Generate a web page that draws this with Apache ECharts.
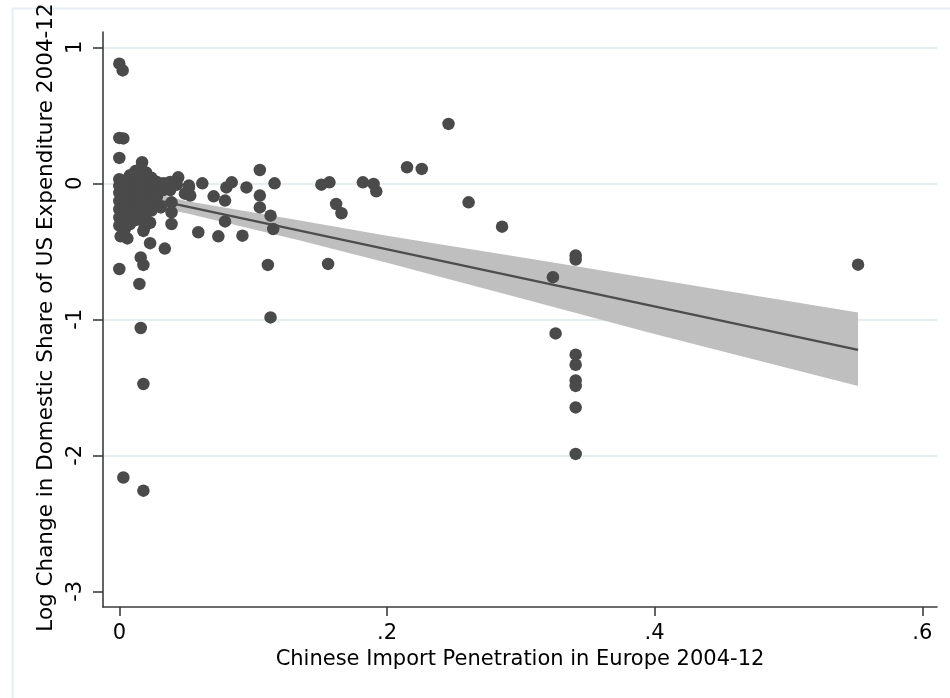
<!DOCTYPE html>
<html>
<head>
<meta charset="utf-8">
<script src="https://cdn.jsdelivr.net/npm/echarts@6/dist/echarts.min.js"></script>
<style>
html,body{margin:0;padding:0;background:#fff;}
#chart{width:950px;height:698px;}
</style>
</head>
<body>
<div id="chart"></div>
<script>
// ---- data ----
const xTitle = 'Chinese Import Penetration in Europe 2004-12';
const yTitle = 'Log Change in Domestic Share of US Expenditure 2004-12';

const xTickVals = [0, 0.2, 0.4, 0.6];
const xTickLabels = ['0', '.2', '.4', '.6'];
const yTickVals = [-3, -2, -1, 0, 1];
const yTickLabels = ['-3', '-2', '-1', '0', '1'];
const yGridVals = [-2, -1, 0, 1];

// scatter points (industries)
const scatterX = [
  0.000, 0.0025, 0.000, 0.003, 0.000, 0.017, 0.044, 0.052, 0.049, 0.062,
  0.0705, 0.079, 0.080, 0.084, 0.095, 0.105, 0.116, 0.105, 0.105, 0.113,
  0.115, 0.031, 0.039, 0.039, 0.039, 0.079, 0.059, 0.074, 0.092, 0.023,
  0.034, 0.016, 0.001, 0.006, 0.018, 0.018, 0.000, 0.015, 0.111, 0.113,
  0.016, 0.018, 0.003, 0.018, 0.151, 0.157, 0.162, 0.166, 0.156, 0.182,
  0.190, 0.192, 0.215, 0.226, 0.246, 0.261, 0.286, 0.324, 0.341, 0.341,
  0.326, 0.341, 0.341, 0.341, 0.341, 0.341, 0.341, 0.552, 0.019, 0.023,
  0.053, 0.052,
  // dense cluster near zero
  0.000, 0.000, 0.000, 0.000, 0.000, 0.000, 0.000,
  0.004, 0.004, 0.004, 0.004, 0.004, 0.004, 0.004,
  0.008, 0.008, 0.008, 0.008, 0.008, 0.008, 0.008,
  0.012, 0.012, 0.012, 0.012, 0.012, 0.012, 0.012,
  0.016, 0.016, 0.016, 0.016, 0.016, 0.016, 0.016,
  0.020, 0.020, 0.020, 0.020, 0.020, 0.020, 0.020,
  0.024, 0.024, 0.024, 0.024, 0.024,
  0.028, 0.028, 0.028,
  0.033, 0.033,
  0.038, 0.038,
  0.043
];
const scatterY = [
  0.880, 0.830, 0.334, 0.330, 0.187, 0.155, 0.044, -0.017, -0.076, 0.000,
  -0.096, -0.127, -0.030, 0.007, -0.030, 0.098, 0.000, -0.090, -0.177, -0.238,
  -0.336, -0.177, -0.140, -0.213, -0.299, -0.280, -0.360, -0.390, -0.385, -0.440,
  -0.480, -0.545, -0.390, -0.405, -0.350, -0.600, -0.630, -0.740, -0.600, -0.986,
  -1.064, -1.476, -2.163, -2.260, -0.010, 0.007, -0.152, -0.220, -0.593, 0.007,
  -0.005, -0.059, 0.118, 0.106, 0.437, -0.140, -0.319, -0.690, -0.530, -0.560,
  -1.104, -1.260, -1.334, -1.450, -1.490, -1.648, -1.990, -0.598, -0.320, -0.290,
  -0.090, -0.030,
  0.030, -0.020, -0.070, -0.130, -0.190, -0.250, -0.310,
  0.020, -0.040, -0.100, -0.160, -0.220, -0.280, -0.340,
  0.060, 0.000, -0.060, -0.120, -0.180, -0.240, -0.300,
  0.090, 0.030, -0.030, -0.090, -0.150, -0.210, -0.270,
  0.110, 0.050, -0.010, -0.070, -0.130, -0.190, -0.250,
  0.080, 0.020, -0.040, -0.100, -0.160, -0.220, -0.280,
  0.040, -0.020, -0.080, -0.140, -0.200,
  0.010, -0.050, -0.100,
  0.000, -0.050,
  0.010, -0.050,
  -0.010
];

// fitted line
const fitX = [0, 0.552];
const fitY = [-0.065, -1.225];

// 95% confidence band
const bandX  = [0, 0.05, 0.135, 0.2, 0.307, 0.397, 0.552];
const bandLo = [-0.12, -0.22, -0.42, -0.585, -0.864, -1.10, -1.49];
const bandHi = [-0.01, -0.13, -0.274, -0.385, -0.555, -0.70, -0.95];

// ---- chart ----
const font = 'DejaVu Sans';
const chart = echarts.init(document.getElementById('chart'), null, {renderer: 'canvas'});

function labelFor(vals, labels) {
  return function (v) {
    const i = vals.findIndex(t => Math.abs(t - v) < 1e-9);
    return i >= 0 ? labels[i] : '';
  };
}

const scatterData = scatterX.map((x, i) => [x, scatterY[i]]);
const fitData = fitX.map((x, i) => [x, fitY[i]]);
const bandData = bandX.map((x, i) => [x, bandLo[i], bandHi[i]]);

const option = {
  animation: false,
  backgroundColor: '#ffffff',
  graphic: [{
    type: 'rect',
    left: 10, top: 6,
    shape: {width: 980, height: 720},
    style: {fill: 'none', stroke: '#e6eef1', lineWidth: 2},
    silent: true, z: -10
  }],
  grid: {left: 103, right: 13, top: 32, bottom: 91, containLabel: false, outerBoundsMode: 'none'},
  xAxis: {
    type: 'value',
    min: -0.0122, max: 0.611,
    name: xTitle,
    nameLocation: 'middle',
    nameGap: 38,
    nameTextStyle: {fontFamily: font, fontSize: 21, color: '#000'},
    axisLine: {show: true, onZero: false, lineStyle: {color: '#3c3c3c', width: 1.6}},
    axisTick: {show: true, length: 9, customValues: xTickVals, lineStyle: {color: '#3c3c3c', width: 1.6}},
    axisLabel: {
      customValues: xTickVals, margin: 16,
      fontFamily: font, fontSize: 21, color: '#000',
      formatter: labelFor(xTickVals, xTickLabels)
    },
    splitLine: {show: false}
  },
  yAxis: {
    type: 'value',
    min: -3.1155, max: 1.1126,
    name: yTitle,
    nameLocation: 'middle',
    nameGap: 43,
    nameRotate: 90,
    nameTextStyle: {fontFamily: font, fontSize: 21.5, color: '#000', padding: [0, 0, 0, 4]},
    axisLine: {show: true, onZero: false, lineStyle: {color: '#3c3c3c', width: 1.6}},
    axisTick: {show: true, length: 10, customValues: yTickVals, lineStyle: {color: '#3c3c3c', width: 1.6}},
    axisLabel: {
      customValues: yTickVals, margin: 17, rotate: 90,
      fontFamily: font, fontSize: 21, color: '#000',
      formatter: labelFor(yTickVals, yTickLabels)
    },
    splitLine: {show: false}
  },
  series: [
    {
      type: 'custom',
      name: 'CI',
      silent: true,
      clip: true,
      z: 1,
      data: bandData,
      encode: {x: 0, y: [1, 2]},
      renderItem: function (params, api) {
        if (params.dataIndex !== 0) return null;
        const upper = bandX.map((x, i) => api.coord([x, bandHi[i]]));
        const lower = bandX.map((x, i) => api.coord([x, bandLo[i]])).reverse();
        return {
          type: 'polygon',
          shape: {points: upper.concat(lower)},
          style: {fill: '#bfbfbf', stroke: 'none'}
        };
      }
    },
    {
      type: 'line',
      name: 'Fit',
      silent: true,
      z: 2,
      data: fitData,
      symbol: 'none',
      lineStyle: {color: '#4d4d4d', width: 2.4},
      markLine: {
        silent: true,
        symbol: 'none',
        label: {show: false},
        z: 0,
        lineStyle: {color: '#e6eef1', width: 2, type: 'solid'},
        data: yGridVals.map(v => ({yAxis: v}))
      }
    },
    {
      type: 'scatter',
      name: 'Industries',
      z: 3,
      data: scatterData,
      symbol: 'circle',
      symbolSize: 12.5,
      itemStyle: {color: '#4a4a4a', opacity: 1}
    }
  ]
};
chart.setOption(option);
</script>
</body>
</html>
